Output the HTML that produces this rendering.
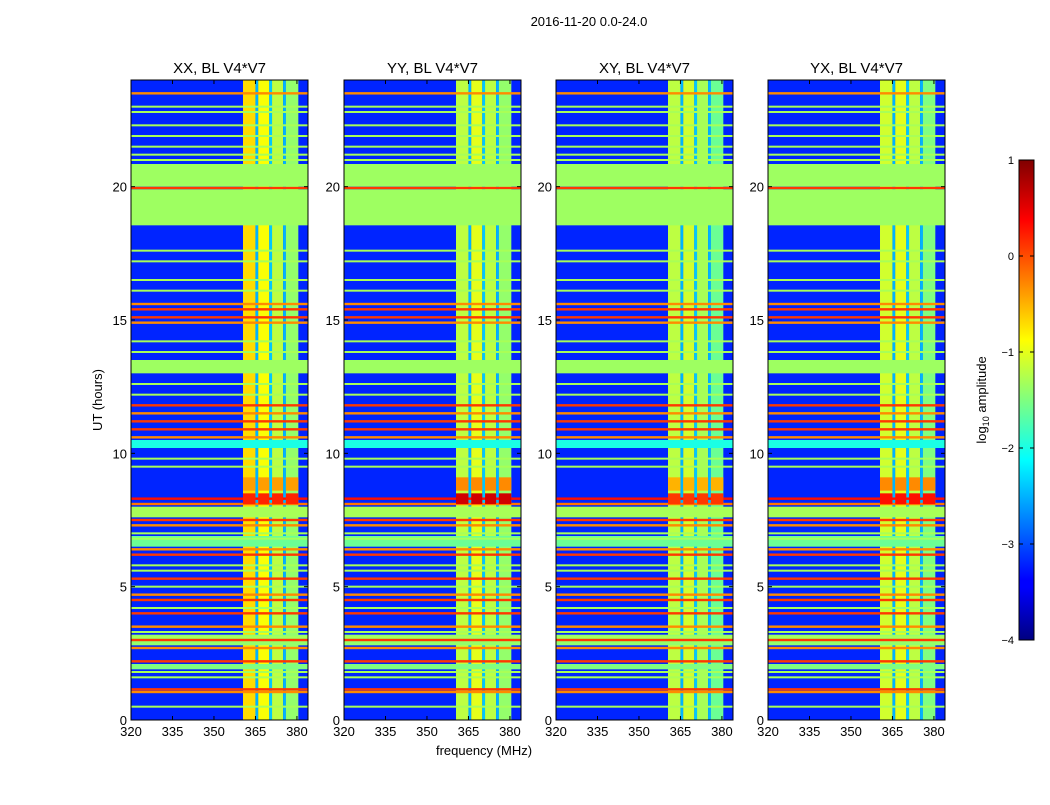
<!DOCTYPE html>
<html><head><meta charset="utf-8">
<style>
body{margin:0;background:#fff;width:1050px;height:800px;overflow:hidden}
svg text{font-family:"Liberation Sans",sans-serif;fill:#000}
</style></head>
<body>
<svg id="fig" width="1050" height="800">
<defs>
<linearGradient id="jet" x1="0" y1="1" x2="0" y2="0">
<stop offset="0" stop-color="#000080"/><stop offset="0.11" stop-color="#0000ff"/>
<stop offset="0.125" stop-color="#0000ff"/><stop offset="0.375" stop-color="#00ffff"/>
<stop offset="0.625" stop-color="#ffff00"/><stop offset="0.875" stop-color="#ff0000"/>
<stop offset="1" stop-color="#800000"/>
</linearGradient>
</defs>
<text x="589" y="26" font-size="13" text-anchor="middle">2016-11-20 0.0-24.0</text>
<text x="484" y="755" font-size="13" text-anchor="middle">frequency (MHz)</text>
<text transform="translate(102,400) rotate(-90)" font-size="13" text-anchor="middle">UT (hours)</text>
<g id="panels"></g>
<g>
<rect x="1019" y="160" width="15" height="480" fill="url(#jet)" stroke="#000" stroke-width="1"/>
<g id="cbticks"></g>
<text transform="translate(986,400) rotate(-90)" font-size="13" text-anchor="middle">log<tspan font-size="9" dy="3">10</tspan><tspan dy="-3"> amplitude</tspan></text>
</g>
</svg>
<script>
const panelTitles=["XX, BL V4*V7","YY, BL V4*V7","XY, BL V4*V7","YX, BL V4*V7"];
const freqTicks=[320,335,350,365,380];
const hourTicks=[0,5,10,15,20];
const cbTicks=[1,0,-1,-2,-3,-4];
const bgLevel=-3.2;
// frequency channel blocks: [start MHz, end MHz]
const colStarts=[360.5,365,366,370,371,375,376];
const colEnds=[365,366,370,371,375,376,380.5];
// log amplitude per block, per panel
const colLevels=[[-0.7,-2.5,-0.9,-2.4,-1.2,-2.5,-1.4],[-1.2,-2.5,-1.0,-2.4,-1.2,-2.5,-1.4],[-1.2,-2.5,-1.1,-2.4,-1.3,-2.5,-1.6],[-1.1,-2.5,-1.0,-2.4,-1.2,-2.5,-1.5]];
// strong RFI rows (hours, level)
const lineHours=[23.5,20.15,19.95,15.6,15.4,15.1,14.9,11.8,11.5,11.2,10.9,10.6,8.3,8.1,7.5,7.3,6.4,6.2,5.3,4.7,4.5,4.0,3.5,3.0,2.7,2.2,1.15,1.05];
const lineLevels=[-0.3,0.1,0.1,-0.3,0.1,0.1,-0.3,0.1,-0.3,0.1,0.1,-0.3,0.3,-0.2,0.1,-0.3,-0.3,0.1,0.1,-0.3,0.1,0.1,-0.3,0.1,-0.3,0.1,0.1,-0.3];
const greenHours=[23.0,22.8,22.3,21.9,21.5,21.2,21.0,17.6,17.2,16.5,16.1,14.2,13.8,12.6,12.2,9.8,9.5,7.0,6.8,5.8,5.6,5.0,4.2,3.3,3.1,1.8,1.6,0.5];
// wider bands: [start h, end h, level]
const bandStarts=[10.2,7.6,6.5,2.8,1.9];
const bandEnds=[10.5,8.0,6.9,3.2,2.1];
const bandLevels=[-2.0,-1.3,-1.6,-1.4,-1.5];
// RFI burst inside channel blocks: [start h, end h], levels per panel
const burstStarts=[8.6,8.1];
const burstEnds=[9.1,8.5];
const burstLevels=[[-0.4,0.2],[-0.3,0.6],[-0.5,0.1],[-0.3,0.3]];
// flagged intervals
const flagStarts=[20.0,18.55,13.0];
const flagEnds=[20.85,19.9,13.5];
const flagLevel=-1.35;

const NS="http://www.w3.org/2000/svg";
function jet(v){const t=Math.max(0,Math.min(1,(v+4)/5));const c=x=>Math.round(255*Math.max(0,Math.min(1,1.5-Math.abs(4*t-x))));return `rgb(${c(3)},${c(2)},${c(1)})`;}
function mk(tag,attrs,parent){const e=document.createElementNS(NS,tag);for(const k in attrs)e.setAttribute(k,attrs[k]);parent.appendChild(e);return e;}
const panelX=[131,344,556,768],PW=177,PT=80,PH=640;
const root=document.getElementById('panels');
panelX.forEach((x0,p)=>{
  const xs=f=>x0+(f-320)/(384-320)*PW;
  const ys=h=>PT+PH-h/24*PH;
  const g=mk('g',{},root);
  
  
  const bg=mk('rect',{x:x0,y:PT,width:PW,height:PH,fill:jet(bgLevel)},g);
  
  
  colStarts.forEach((s,i)=>{
    const r=mk('rect',{x:xs(s),y:PT,width:xs(colEnds[i])-xs(s),height:PH,fill:jet(colLevels[p][i])},g);
    
    
  });
  bandStarts.forEach((s,i)=>{
    const r=mk('rect',{x:x0,y:ys(bandEnds[i]),width:PW,height:ys(s)-ys(bandEnds[i]),fill:jet(bandLevels[i])},g);
    
    
  });
  greenHours.forEach(h=>{
    const r=mk('rect',{x:x0,y:ys(h)-1,width:PW,height:2,fill:jet(-1.3)},g);
    
    
  });
  lineHours.forEach((h,i)=>{
    const r=mk('rect',{x:x0,y:ys(h)-1.2,width:PW,height:2.4,fill:jet(lineLevels[i])},g);
    
    
  });
  colStarts.forEach((s,i)=>{
    if(colLevels[p][i]>-2){
      burstStarts.forEach((b,j)=>{
        const r=mk('rect',{x:xs(s),y:ys(burstEnds[j]),width:xs(colEnds[i])-xs(s),height:ys(b)-ys(burstEnds[j]),fill:jet(burstLevels[p][j])},g);
        
        
      });
    }
  });
  flagStarts.forEach((s,i)=>{
    const r=mk('rect',{x:x0,y:ys(flagEnds[i]),width:PW,height:ys(s)-ys(flagEnds[i]),fill:jet(flagLevel)},g);
    
    
  });
  const fr=mk('rect',{x:x0,y:PT,width:PW,height:PH,fill:'none',stroke:'#000','stroke-width':1},g);
  
  
  const t=mk('text',{x:x0+PW/2,y:73,'font-size':15,'text-anchor':'middle'},g);
  t.textContent=panelTitles[p];
  
  
  freqTicks.forEach(f=>{
    mk('line',{x1:xs(f),x2:xs(f),y1:PT+PH,y2:PT+PH-4,stroke:'#000'},g);
    mk('line',{x1:xs(f),x2:xs(f),y1:PT,y2:PT+4,stroke:'#000'},g);
    const l=mk('text',{x:xs(f),y:PT+PH+16,'font-size':13,'text-anchor':'middle'},g);
    l.textContent=f;
    
    
  });
  hourTicks.forEach(h=>{
    mk('line',{x1:x0,x2:x0+4,y1:ys(h),y2:ys(h),stroke:'#000'},g);
    mk('line',{x1:x0+PW,x2:x0+PW-4,y1:ys(h),y2:ys(h),stroke:'#000'},g);
    const l=mk('text',{x:x0-4,y:ys(h)+5,'font-size':13,'text-anchor':'end'},g);
    l.textContent=h;
    
    
  });
});
const cb=document.getElementById('cbticks');
cbTicks.forEach(v=>{
  const y=640-(v+4)/5*480;
  mk('line',{x1:1019,x2:1023,y1:y,y2:y,stroke:'#000'},cb);
  mk('line',{x1:1034,x2:1030,y1:y,y2:y,stroke:'#000'},cb);
  const l=mk('text',{x:1014,y:y+4,'font-size':11,'text-anchor':'end'},cb);
  l.textContent=v<0?'\u2212'+(-v):v;
  
  
});
</script>
</body></html>
